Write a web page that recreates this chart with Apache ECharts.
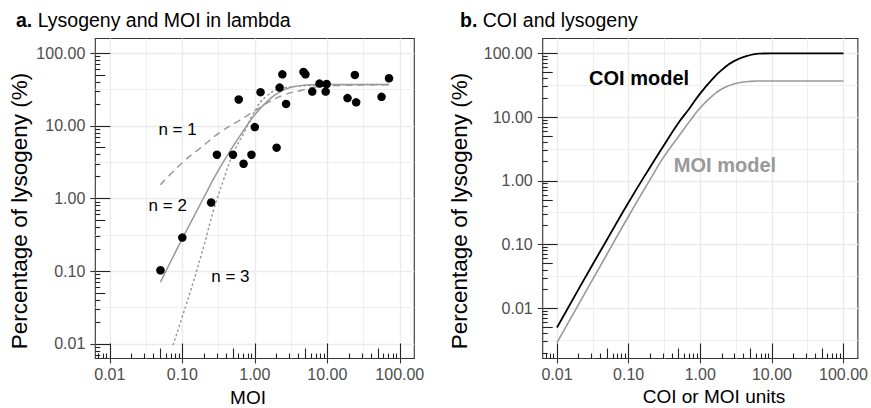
<!DOCTYPE html>
<html>
<head>
<meta charset="utf-8">
<script src="https://cdn.jsdelivr.net/npm/echarts@6/dist/echarts.min.js"></script>
<style>
html,body{margin:0;padding:0;background:#fff;}
#c{width:871px;height:408px;}
</style>
</head>
<body>
<div id="c"></div>
<script>
// ---------------- data ----------------
const tickValues = [0.01, 0.1, 1, 10, 100];
const tickLabels = ['0.01', '0.10', '1.00', '10.00', '100.00'];

// panel a: observed lysogeny vs MOI
const obsMoi = [0.05, 0.1, 0.25, 0.3, 0.5, 0.6, 0.7, 0.9, 1.0, 1.2, 2.0, 2.2, 2.4, 2.7, 4.7, 5.0, 6.2, 7.8, 9.5, 9.8, 19, 24, 25, 56, 71];
const obsLysogeny = [0.103, 0.29, 0.88, 4.0, 4.0, 23, 3.0, 4.0, 9.6, 29, 5.0, 33.5, 51, 20, 55, 51, 29.5, 38, 29.5, 37.5, 24, 50, 21, 25, 45];

// panel a: fitted curves
const fitN1Moi = [0.05, 0.1, 0.18, 0.33, 0.6, 1.0, 1.6, 2.7, 4.5, 6.4, 12, 30, 71];
const fitN1Pct = [1.55, 3.1, 5.0, 8.1, 11.7, 16.0, 21.5, 27.2, 30.8, 33.5, 35.5, 36.3, 36.6];
const fitN2Moi = [0.05, 0.1, 0.2, 0.3, 0.5, 0.7, 1, 1.5, 2, 3, 5, 7, 10, 20, 40, 71];
const fitN2Pct = [0.071, 0.28, 1.05, 2.25, 5.2, 8.6, 14.2, 21.8, 27.5, 33.3, 36.3, 36.7, 36.8, 36.8, 36.8, 36.8];
const fitN3Moi = [0.075, 0.1, 0.14, 0.2, 0.27, 0.37, 0.5, 0.73, 0.95, 1.45, 2.7, 7.9, 71];
const fitN3Pct = [0.0098, 0.0237, 0.068, 0.23, 0.69, 1.8, 4.1, 8.5, 14.5, 25.5, 33.5, 36.0, 37.0];

// panel b: models
const modelUnits = [0.01, 0.02, 0.05, 0.1, 0.2, 0.3, 0.5, 0.7, 1, 1.5, 2, 3, 5, 7, 10, 20, 50, 100];
const coiModelPct = [0.005, 0.02, 0.12, 0.46, 1.65, 3.4, 8.2, 13.5, 23.5, 40, 55, 76, 94, 99, 100, 100, 100, 100];
const moiModelPct = [0.0029, 0.0115, 0.071, 0.28, 1.05, 2.25, 5.0, 8.4, 14.0, 21.8, 27.5, 33.3, 36.3, 36.7, 36.8, 36.8, 36.8, 36.8];

const curveLabels = ['n = 1', 'n = 2', 'n = 3'];
const curveLabelMoi = [0.086, 0.063, 0.46];
const curveLabelPct = [9.0, 0.80, 0.085];
const modelLabels = ['COI model', 'MOI model'];
const modelLabelUnits = [0.14, 2.21];
const modelLabelPct = [41.7, 1.77];

// ---------------- layout / style ----------------
const FONT = "'Liberation Sans', Arial, Helvetica, sans-serif";
const GRAY = '#999999';
const L = Math.log10;

const xRange = [-2.2, 2.2];
const yRangeA = [-2.2, 2.2];
const yRangeB = [-2.788, 2.232];

function logTicks(min, max) {
  const major = [], mid = [], minor = [], half = [];
  const eps = 1e-9;
  for (let k = Math.floor(min) - 1; k <= Math.ceil(max); k++) {
    if (k >= min - eps && k <= max + eps) major.push(k);
    if (k + 0.5 >= min && k + 0.5 <= max) half.push(k + 0.5);
    for (let d = 2; d <= 9; d++) {
      const v = k + L(d);
      if (v >= min && v <= max) (d === 5 ? mid : minor).push(v);
    }
  }
  return {major, mid, minor, half};
}

function labelFor(v) {
  for (let i = 0; i < tickValues.length; i++) {
    if (Math.abs(L(tickValues[i]) - v) < 1e-6) return tickLabels[i];
  }
  return '';
}

function axesFor(dim, gridIndex, range) {
  const t = logTicks(range[0], range[1]);
  const isX = dim === 'x';
  const base = {
    type: 'value', gridIndex, min: range[0], max: range[1],
    position: isX ? 'bottom' : 'left', offset: 0, silent: true,
    axisLine: {show: false, onZero: false}, axisLabel: {show: false}, axisTick: {show: false},
    splitLine: {show: false}, splitArea: {show: false}, minorTick: {show: false}, minorSplitLine: {show: false}
  };
  const mk = o => Object.assign({}, base, o);
  const tickStyle = {color: '#222', width: 1.1};
  return [
    mk({axisTick: {show: false, customValues: t.major}, splitLine: {show: true, lineStyle: {color: '#ebebeb', width: 1.4}}}),
    mk({axisTick: {show: false, customValues: t.half}, splitLine: {show: true, lineStyle: {color: '#ebebeb', width: 0.8}}}),
    mk({
      axisTick: {show: true, inside: false, length: 5, customValues: t.major, lineStyle: {color: '#333', width: 1.1}},
      axisLabel: {show: true, customValues: t.major, margin: isX ? 8 : 10, color: '#4d4d4d', fontSize: 16, fontFamily: FONT, formatter: v => labelFor(v)}
    }),
    mk({axisTick: {show: true, inside: true, length: 15, customValues: t.major, lineStyle: tickStyle}}),
    mk({axisTick: {show: true, inside: true, length: 10, customValues: t.mid, lineStyle: tickStyle}}),
    mk({axisTick: {show: true, inside: true, length: 5, customValues: t.minor, lineStyle: tickStyle}})
  ];
}

const zip = (xs, ys) => xs.map((x, i) => [L(x), L(ys[i])]);

const grids = [
  {left: 95.3, top: 38.5, width: 319, height: 320, show: true, borderColor: '#333', borderWidth: 1.1, backgroundColor: 'transparent'},
  {left: 542.7, top: 38.5, width: 317, height: 320, show: true, borderColor: '#333', borderWidth: 1.1, backgroundColor: 'transparent'}
];

const xAxes = axesFor('x', 0, xRange).concat(axesFor('x', 1, xRange));
const yAxes = axesFor('y', 0, yRangeA).concat(axesFor('y', 1, yRangeB));

const lineBase = {type: 'line', showSymbol: false, symbol: 'none', smooth: true, silent: true, animation: false};

const series = [
  Object.assign({}, lineBase, {name: 'n = 1', xAxisIndex: 0, yAxisIndex: 0, data: zip(fitN1Moi, fitN1Pct),
    lineStyle: {color: GRAY, width: 1.5, type: [7, 5]}}),
  Object.assign({}, lineBase, {name: 'n = 3', xAxisIndex: 0, yAxisIndex: 0, data: zip(fitN3Moi, fitN3Pct),
    lineStyle: {color: GRAY, width: 1.5, type: [1.2, 3.6], cap: 'round'}}),
  Object.assign({}, lineBase, {name: 'n = 2', xAxisIndex: 0, yAxisIndex: 0, data: zip(fitN2Moi, fitN2Pct),
    lineStyle: {color: GRAY, width: 1.5}}),
  {type: 'scatter', name: 'observed', xAxisIndex: 0, yAxisIndex: 0, data: zip(obsMoi, obsLysogeny),
    symbol: 'circle', symbolSize: 8.5, itemStyle: {color: '#000', opacity: 1}, silent: true, animation: false, z: 5},
  Object.assign({}, lineBase, {name: 'MOI model', xAxisIndex: 6, yAxisIndex: 6, data: zip(modelUnits, moiModelPct),
    lineStyle: {color: GRAY, width: 1.6}}),
  Object.assign({}, lineBase, {name: 'COI model', xAxisIndex: 6, yAxisIndex: 6, data: zip(modelUnits, coiModelPct),
    lineStyle: {color: '#000', width: 1.8}})
];

const chart = echarts.init(document.getElementById('c'), null, {renderer: 'svg', width: 871, height: 408});
chart.setOption({
  animation: false,
  backgroundColor: '#ffffff',
  grid: grids,
  xAxis: xAxes,
  yAxis: yAxes,
  series: series
});

function txt(text, x, y, opt) {
  opt = opt || {};
  return {
    type: 'text', x: x, y: y, rotation: opt.rotation || 0, silent: true, z: 10,
    style: {
      text: text, fill: opt.color || '#000',
      fontSize: opt.size || 16, fontFamily: FONT, fontWeight: opt.weight || 'normal',
      textAlign: opt.align || 'center', textVerticalAlign: 'middle',
      align: opt.align || 'center', verticalAlign: 'middle',
      rich: opt.rich
    }
  };
}

const elements = [];
const richTitle = {b: {fontWeight: 'bold', fontSize: 19.5, fontFamily: FONT, fill: '#000'}};
elements.push(txt('{b|a.} Lysogeny and MOI in lambda', 16, 19.5, {size: 19.5, align: 'left', rich: richTitle}));
elements.push(txt('{b|b.} COI and lysogeny', 460, 19.5, {size: 19.5, align: 'left', rich: richTitle}));
elements.push(txt('MOI', 248, 397, {size: 19}));
elements.push(txt('COI or MOI units', 714, 396.5, {size: 19}));
elements.push(txt('Percentage of lysogeny (%)', 19, 211, {size: 22.5, rotation: Math.PI / 2}));
elements.push(txt('Percentage of lysogeny (%)', 459, 211, {size: 22.5, rotation: Math.PI / 2}));

for (let i = 0; i < curveLabels.length; i++) {
  const p = chart.convertToPixel({gridIndex: 0}, [L(curveLabelMoi[i]), L(curveLabelPct[i])]);
  elements.push(txt(curveLabels[i], p[0], p[1], {size: 17}));
}
const modelColors = ['#000', GRAY];
for (let i = 0; i < modelLabels.length; i++) {
  const p = chart.convertToPixel({gridIndex: 1}, [L(modelLabelUnits[i]), L(modelLabelPct[i])]);
  elements.push(txt(modelLabels[i], p[0], p[1], {size: 20, weight: 'bold', color: modelColors[i]}));
}
chart.setOption({graphic: {elements: elements}});
</script>
</body>
</html>
